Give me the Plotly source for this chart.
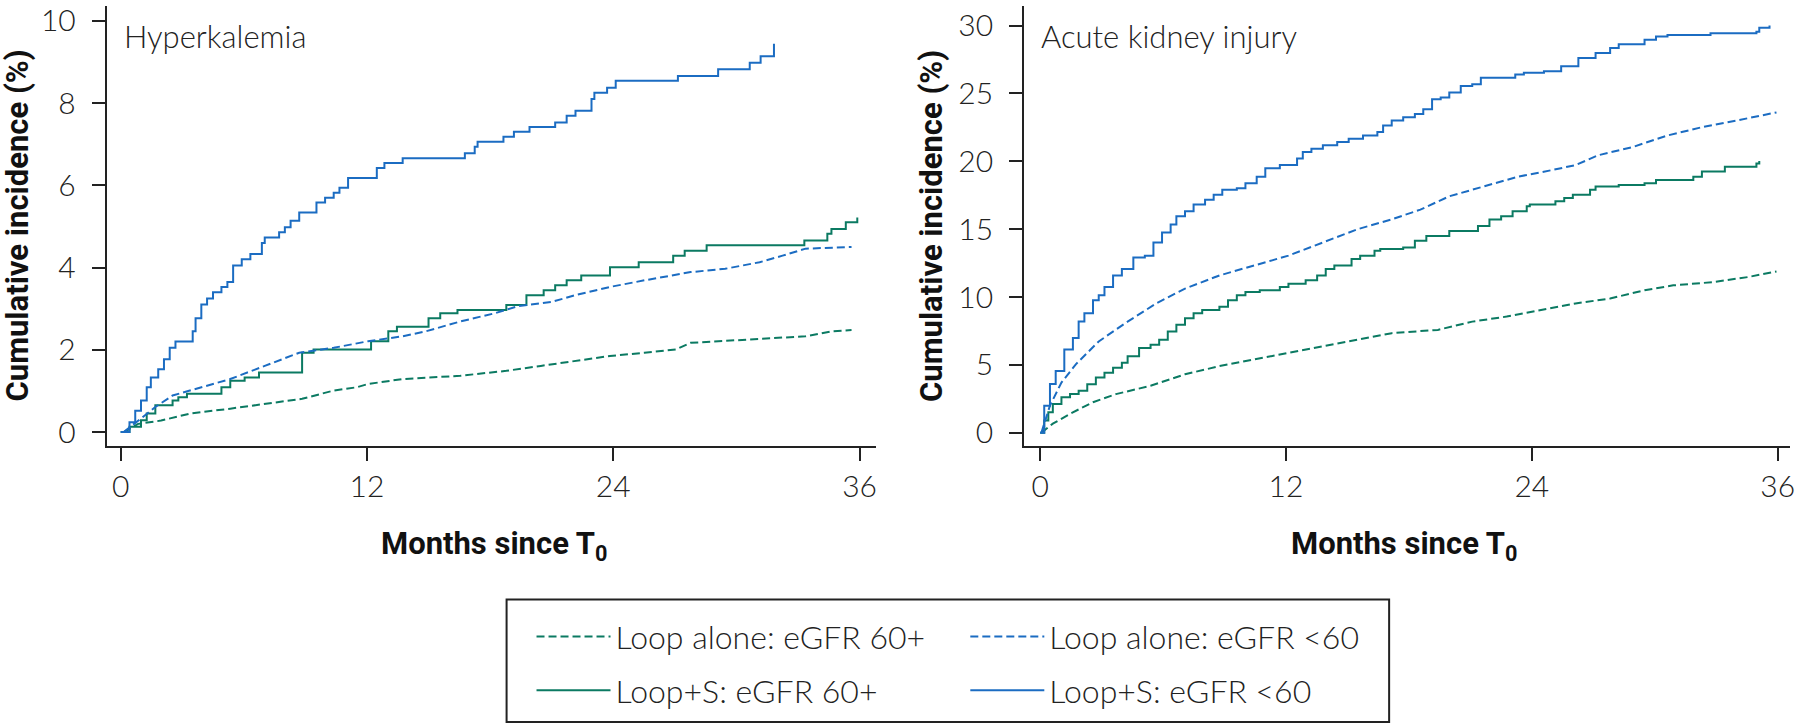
import plotly.graph_objects as go

# Hyperkalemia panel (months since T0, cumulative incidence %)
hk_loops_lt60_t = [0, 0.43, 0.71, 0.99, 1.27, 1.47, 1.83, 2.11, 2.39, 2.67, 3.51, 3.65, 3.93, 4.21, 4.5,
                   4.91, 5.2, 5.48, 5.9, 6.32, 6.88, 7.02, 7.72, 8.0, 8.28, 8.7, 9.54, 9.96, 10.38, 10.66,
                   11.08, 12.48, 12.85, 13.74, 16.77, 17.25, 17.39, 18.65, 19.16, 19.92, 21.17, 21.73,
                   22.16, 22.94, 23.08, 23.7, 24.12, 27.15, 29.11, 30.65, 31.18, 31.83]
hk_loops_lt60_y = [0, 0.24, 0.52, 0.77, 1.09, 1.33, 1.53, 1.77, 2.05, 2.2, 2.45, 2.77, 3.1, 3.25, 3.4,
                   3.53, 3.65, 4.05, 4.2, 4.33, 4.6, 4.73, 4.86, 4.98, 5.14, 5.34, 5.58, 5.7, 5.82, 5.94,
                   6.18, 6.42, 6.54, 6.66, 6.78, 6.94, 7.06, 7.18, 7.3, 7.42, 7.53, 7.69,
                   7.81, 8.1, 8.25, 8.37, 8.54, 8.66, 8.82, 8.98, 9.14, 9.44]

hk_loops_60_t = [0, 0.43, 0.99, 1.27, 1.69, 2.53, 2.81, 3.23, 4.91, 5.34, 6.04, 6.74, 8.84, 9.4, 12.2,
                 13.04, 13.46, 15.0, 15.57, 16.41, 18.79, 19.77, 20.61, 21.17, 21.73, 22.44, 23.84,
                 25.24, 26.92, 27.48, 28.55, 33.31, 34.43, 34.63, 35.33, 35.89]
hk_loops_60_y = [0, 0.13, 0.29, 0.45, 0.65, 0.77, 0.85, 0.93, 1.09, 1.25, 1.33, 1.45, 1.93, 2.01, 2.21,
                 2.45, 2.56, 2.77, 2.89, 2.97, 3.09, 3.33, 3.45, 3.57, 3.69, 3.81, 4.01,
                 4.13, 4.29, 4.41, 4.54, 4.66, 4.82, 4.94, 5.1, 5.22]

hk_alone_lt60_t = [0.15, 0.85, 1.69, 2.53, 3.65, 5.34, 7.02, 8.7, 10.38, 12.06, 13.74, 14.87, 16.55,
                   18.23, 19.35, 21.03, 22.16, 23.84, 25.52, 27.77, 29.45, 31.13, 32.25, 33.37, 35.61]
hk_alone_lt60_y = [0, 0.28, 0.61, 0.89, 1.05, 1.29, 1.61, 1.93, 2.05, 2.21, 2.33, 2.45, 2.69,
                   2.89, 3.06, 3.17, 3.33, 3.53, 3.69, 3.89, 3.97, 4.13, 4.29, 4.46, 4.5]

hk_alone_60_t = [0.15, 0.85, 1.97, 3.37, 5.34, 7.02, 8.84, 10.38, 11.5, 12.06, 13.74, 16.55, 18.79,
                 20.47, 22.16, 23.84, 25.52, 27.06, 27.77, 30.57, 33.37, 34.63, 35.61]
hk_alone_60_y = [0, 0.2, 0.28, 0.45, 0.57, 0.69, 0.81, 1.01, 1.09, 1.17, 1.29, 1.37, 1.49,
                 1.61, 1.73, 1.85, 1.93, 2.01, 2.17, 2.25, 2.33, 2.45, 2.48]

# Acute kidney injury panel
aki_loops_lt60_t = [0, 0.2, 0.48, 0.76, 1.18, 1.6, 1.88, 2.16, 2.58, 2.86, 3.14, 3.56, 3.99, 4.55, 5.11,
                    5.53, 5.95, 6.37, 6.65, 7.07, 7.49, 8.05, 8.47, 8.89, 9.6, 10.02, 10.57, 10.99,
                    11.7, 12.54, 12.82, 13.24, 13.8, 14.5, 15.06, 15.76, 16.46, 16.74, 17.16, 17.72,
                    18.29, 18.7, 19.13, 19.55, 19.97, 20.53, 21.09, 21.51, 23.19, 23.61, 24.59, 25.43,
                    26.27, 27.11, 27.82, 28.24, 29.5, 30.06, 30.62, 32.72, 34.96, 35.1, 35.6]
aki_loops_lt60_y = [0, 2.0, 3.6, 4.55, 6.13, 6.98, 8.2, 8.8, 9.77, 10.13, 10.74, 11.59, 12.07, 12.92, 13.05,
                    14.02, 14.75, 15.35, 15.96, 16.32, 16.81, 17.17, 17.54, 17.9, 18.02, 18.39, 18.87, 19.48,
                    19.72, 20.2, 20.69, 20.93, 21.18, 21.42, 21.66, 21.9, 22.15, 22.63, 23.0, 23.24,
                    23.48, 23.84, 24.57, 24.7, 25.06, 25.55, 25.67, 26.15, 26.4, 26.52, 26.64, 27.0,
                    27.61, 27.97, 28.34, 28.63, 28.95, 29.19, 29.31, 29.43, 29.55, 29.84, 30.0]

aki_loops_60_t = [0, 0.2, 0.4, 0.62, 1.04, 1.46, 1.88, 2.3, 2.72, 3.14, 3.56, 3.99, 4.27, 4.83, 5.39,
                  5.81, 6.23, 6.65, 7.07, 7.49, 7.91, 8.75, 9.17, 9.6, 10.02, 10.72, 11.7, 12.12,
                  12.96, 13.52, 13.94, 14.36, 15.2, 15.62, 16.32, 16.6, 17.72, 18.29, 18.85, 19.97,
                  21.37, 21.93, 22.5, 23.06, 23.75, 23.9, 25.15, 25.58, 26.0, 26.84, 27.11, 28.24,
                  29.5, 30.06, 31.88, 32.3, 33.42, 34.96, 35.1]
aki_loops_60_y = [0, 0.91, 1.51, 2.12, 2.61, 2.85, 3.09, 3.58, 4.07, 4.43, 4.79, 5.16, 5.64, 6.25, 6.49,
                  6.86, 7.46, 7.95, 8.43, 8.8, 9.04, 9.28, 9.77, 10.13, 10.38, 10.5, 10.74, 10.98,
                  11.23, 11.59, 12.07, 12.32, 12.8, 13.05, 13.41, 13.53, 13.65, 14.14, 14.5, 14.87,
                  15.23, 15.72, 15.96, 16.32, 16.69, 16.81, 17.05, 17.29, 17.54, 17.9, 18.14, 18.26,
                  18.39, 18.63, 18.87, 19.24, 19.6, 19.84, 20.03]

aki_alone_lt60_t = [0.06, 0.48, 1.04, 1.74, 2.86, 4.27, 5.67, 7.07, 8.75, 10.44, 12.12, 13.8, 15.48,
                    17.16, 18.56, 19.97, 21.65, 23.33, 25.01, 26.13, 27.25, 28.94, 30.62, 32.3, 33.98, 35.94]
aki_alone_lt60_y = [0, 2.0, 3.7, 5.04, 6.73, 8.19, 9.53, 10.62, 11.59, 12.32, 13.05, 14.02, 14.99,
                    15.72, 16.44, 17.42, 18.14, 18.87, 19.36, 19.72, 20.45, 21.06, 21.9, 22.51, 23.0, 23.6]

aki_alone_60_t = [0.06, 0.62, 1.46, 2.58, 3.7, 5.39, 7.07, 8.75, 10.44, 12.12, 13.8, 15.48, 17.16,
                  19.41, 21.09, 22.77, 24.45, 26.13, 27.82, 29.5, 30.9, 32.86, 34.54, 35.94]
aki_alone_60_y = [0, 0.67, 1.4, 2.25, 2.85, 3.46, 4.31, 4.91, 5.4, 5.89, 6.37, 6.86, 7.34,
                  7.58, 8.19, 8.56, 9.04, 9.53, 9.89, 10.5, 10.86, 11.1, 11.47, 11.88]

x_ticks = [0, 12, 24, 36]
hk_yticks = [0, 2, 4, 6, 8, 10]
aki_yticks = [0, 5, 10, 15, 20, 25, 30]

GREEN = "#0b7a62"
BLUE = "#1b6cc2"
DASH = "8px,4px"
THIN = dict(family="Lato", size=30, color="#222222", weight=300)
BOLD = dict(family="Roboto", size=31, color="#111111", weight="bold")
LEGFONT = dict(family="Lato", size=32, color="#222222", weight=300)
W, H = 1800, 727

fig = go.Figure()

series = [
    ("Loop alone: eGFR 60+", GREEN, DASH, "linear", "legend", hk_alone_60_t, hk_alone_60_y, aki_alone_60_t, aki_alone_60_y),
    ("Loop+S: eGFR 60+", GREEN, "solid", "hv", "legend", hk_loops_60_t, hk_loops_60_y, aki_loops_60_t, aki_loops_60_y),
    ("Loop alone: eGFR <60", BLUE, DASH, "linear", "legend2", hk_alone_lt60_t, hk_alone_lt60_y, aki_alone_lt60_t, aki_alone_lt60_y),
    ("Loop+S: eGFR <60", BLUE, "solid", "hv", "legend2", hk_loops_lt60_t, hk_loops_lt60_y, aki_loops_lt60_t, aki_loops_lt60_y),
]

for name, color, dash, shape, leg, t1, y1, t2, y2 in series:
    fig.add_trace(go.Scatter(x=t1, y=y1, mode="lines", name=name, legend=leg, legendgroup=name,
                             line=dict(color=color, width=2, dash=dash, shape=shape),
                             xaxis="x", yaxis="y"))
    fig.add_trace(go.Scatter(x=t2, y=y2, mode="lines", name=name, legendgroup=name, showlegend=False,
                             line=dict(color=color, width=2, dash=dash, shape=shape),
                             xaxis="x2", yaxis="y2"))

axis_common = dict(showline=True, linecolor="#222222", linewidth=2, ticks="outside", ticklen=13,
                   tickwidth=2, tickcolor="#222222", showgrid=False, zeroline=False, tickfont=THIN,
                   ticklabeloverflow="allow")

y_bottom = (H - 446) / H
y_top = (H - 1) / H

fig.update_layout(
    width=W, height=H,
    margin=dict(l=0, r=0, t=0, b=0),
    paper_bgcolor="white", plot_bgcolor="white",
    xaxis=dict(domain=[107 / W, 878 / W], range=[-0.68, 36.78], tickvals=x_ticks, anchor="y", **axis_common),
    yaxis=dict(domain=[y_bottom, y_top], range=[-0.34, 10.36], tickvals=hk_yticks, anchor="x",
               ticklabelstandoff=10, **axis_common),
    xaxis2=dict(domain=[1027 / W, 1795 / W], range=[-0.78, 36.6], tickvals=x_ticks, anchor="y2", **axis_common),
    yaxis2=dict(domain=[y_bottom, y_top], range=[-0.98, 31.44], tickvals=aki_yticks, anchor="x2",
                ticklabelstandoff=10, **axis_common),
    legend=dict(x=533 / W, y=(H - 611) / H, xanchor="left", yanchor="top", font=LEGFONT,
                itemwidth=74, tracegroupgap=9, bgcolor="rgba(0,0,0,0)"),
    legend2=dict(x=968 / W, y=(H - 611) / H, xanchor="left", yanchor="top", font=LEGFONT,
                 itemwidth=74, tracegroupgap=9, bgcolor="rgba(0,0,0,0)"),
    showlegend=True,
)

fig.add_shape(type="rect", xref="paper", yref="paper", x0=508 / W, x1=1393 / W, y0=(H - 725) / H, y1=(H - 601) / H,
              line=dict(color="#222222", width=2), fillcolor="rgba(0,0,0,0)")

# panel titles
TITLEFONT = dict(family="Lato", size=31, color="#222222", weight=300)
fig.add_annotation(text="Hyperkalemia", x=122 / W, y=(H - 31) / H, xref="paper", yref="paper",
                   xanchor="left", yanchor="middle", showarrow=False, font=TITLEFONT)
fig.add_annotation(text="Acute kidney injury", x=1042 / W, y=(H - 31) / H, xref="paper", yref="paper",
                   xanchor="left", yanchor="middle", showarrow=False, font=TITLEFONT)

# axis titles
for xc in [18, 934]:
    fig.add_annotation(text="Cumulative incidence (%)", x=xc / W, y=(H - 223) / H, xref="paper", yref="paper",
                       textangle=-90, xanchor="center", yanchor="middle", showarrow=False, font=BOLD)
for xc in [495, 1408]:
    fig.add_annotation(text="Months since T<sub>0</sub>", x=xc / W, y=(H - 547) / H, xref="paper", yref="paper",
                       xanchor="center", yanchor="middle", showarrow=False, font=BOLD)

# page default margin would push the figure off the 1800x727 window
fig.write_html("out.html", config={"displayModeBar": False},
               post_script="document.body.style.margin='0px';document.body.style.overflow='hidden';")
